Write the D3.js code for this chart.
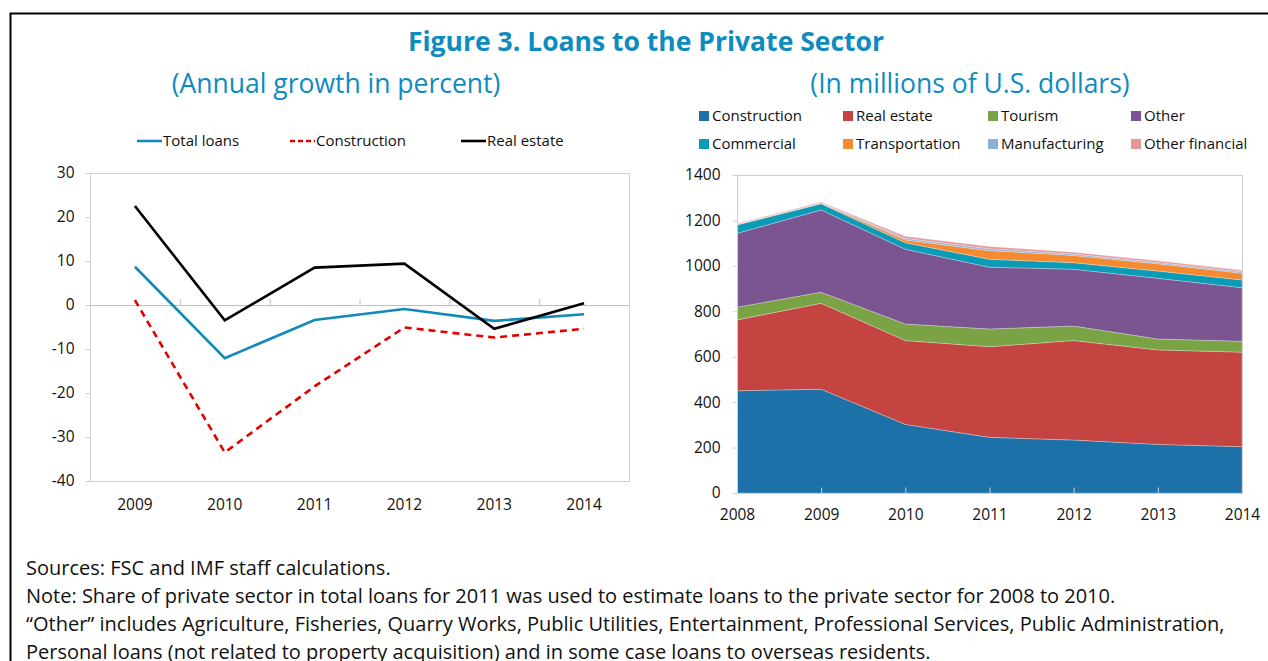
<!DOCTYPE html>
<meta charset="utf-8" />
<title>Loans to the Private Sector</title>
<style>
  body { margin: 0; background: #fff; font-family: "Open Sans", "Noto Sans", sans-serif; }
  .tick text { font-size: 15.5px; fill: #111; font-family: "Open Sans", "Noto Sans", sans-serif; }
  .note { font-size: 20px; fill: #111; }
</style>
<body>
<script src="https://d3js.org/d3.v7.min.js"></script>
<script>
  // left panel: annual growth in percent
  var growthYears = ["2009", "2010", "2011", "2012", "2013", "2014"];
  var totalLoans = [8.7, -12.1, -3.4, -0.9, -3.6, -2.1];
  var constructionGrowth = [1.1, -33.5, -18.5, -5.1, -7.4, -5.4];
  var realEstateGrowth = [22.5, -3.5, 8.5, 9.4, -5.4, 0.4];
  var growthTicks = [30, 20, 10, 0, -10, -20, -30, -40];

  // right panel: stock of loans, millions of US$
  var stockYears = ["2008", "2009", "2010", "2011", "2012", "2013", "2014"];
  var sectors = ["Construction", "Real estate", "Tourism", "Other", "Commercial", "Transportation", "Manufacturing", "Other financial"];
  var construction = [450, 457, 302, 245, 233, 214, 204];
  var realEstate = [312, 378, 369, 399, 438, 416, 416];
  var tourism = [56, 49, 73, 78, 64, 48, 48];
  var other = [325, 362, 329, 272, 250, 267, 236];
  var commercial = [37, 27, 29, 35, 29, 32, 34];
  var transportation = [2, 3, 12, 38, 32, 32, 30];
  var manufacturing = [1, 2, 7, 8, 6, 6, 6];
  var otherFinancial = [3, 3, 9, 10, 8, 7, 7];
  var stockTicks = [0, 200, 400, 600, 800, 1000, 1200, 1400];

  var sectorColors = ["#1c71a9", "#c44442", "#7aa346", "#7a5591", "#0b9bb6", "#f58a31", "#8fb0d6", "#e8969a"];
  var blue = "#0e8bbf";
  var plain = function(d) { return String(d); };

  var svg = d3.select("body").append("svg")
    .attr("width", 1268)
    .attr("height", 661);

  // frame
  svg.append("path")
    .attr("d", "M10.5,700 V13.5 H1300")
    .attr("fill", "none")
    .attr("stroke", "#000")
    .attr("stroke-width", 2);

  svg.append("text")
    .attr("x", 646).attr("y", 51)
    .attr("text-anchor", "middle")
    .attr("fill", blue)
    .style("font-size", "26.5px")
    .style("font-weight", "bold")
    .text("Figure 3. Loans to the Private Sector");

  svg.append("text")
    .attr("x", 336).attr("y", 93)
    .attr("text-anchor", "middle")
    .attr("fill", blue)
    .style("font-size", "26.5px")
    .text("(Annual growth in percent)");

  svg.append("text")
    .attr("x", 970).attr("y", 93)
    .attr("text-anchor", "middle")
    .attr("fill", blue)
    .style("font-size", "26.5px")
    .text("(In millions of U.S. dollars)");

  // ---------- left chart ----------
  var L = { left: 90, right: 629, top: 173, bottom: 481 };
  var xL = d3.scaleBand().domain(growthYears).range([L.left, L.right]);
  var yL = d3.scaleLinear().domain([-40, 30]).range([L.bottom, L.top]);

  var gL = svg.append("g");

  gL.append("rect")
    .attr("x", L.left + 0.5).attr("y", L.top + 0.5)
    .attr("width", L.right - L.left).attr("height", L.bottom - L.top)
    .attr("fill", "none").attr("stroke", "#d0d0d0");

  var yAxisL = gL.append("g")
    .attr("transform", "translate(" + (L.left + 0.5) + ",0)")
    .call(d3.axisLeft(yL).tickValues(growthTicks).tickFormat(plain).tickSize(5).tickPadding(11));
  yAxisL.select(".domain").remove();
  yAxisL.selectAll("line").attr("stroke", "#d0d0d0");

  // zero line with category ticks
  gL.append("line")
    .attr("x1", L.left).attr("x2", L.right)
    .attr("y1", yL(0) + 0.5).attr("y2", yL(0) + 0.5)
    .attr("stroke", "#c0c0c0");
  gL.selectAll(".sep")
    .data(growthYears.slice(1))
    .enter().append("line")
    .attr("x1", function(d) { return xL(d) + 0.5; })
    .attr("x2", function(d) { return xL(d) + 0.5; })
    .attr("y1", yL(0) - 6).attr("y2", yL(0))
    .attr("stroke", "#c0c0c0");

  var xAxisL = gL.append("g")
    .attr("transform", "translate(0," + L.bottom + ")")
    .call(d3.axisBottom(xL).tickSize(0).tickPadding(18));
  xAxisL.select(".domain").remove();

  var lineL = d3.line()
    .x(function(d, i) { return xL(growthYears[i]) + xL.bandwidth() / 2; })
    .y(function(d) { return yL(d); });

  var growthSeries = [
    { name: "Total loans", values: totalLoans, color: "#128ab7", dash: null },
    { name: "Construction", values: constructionGrowth, color: "#e50000", dash: "7,5" },
    { name: "Real estate", values: realEstateGrowth, color: "#000", dash: null }
  ];

  gL.selectAll(".series")
    .data(growthSeries)
    .enter().append("path")
    .attr("d", function(d) { return lineL(d.values); })
    .attr("fill", "none")
    .attr("stroke", function(d) { return d.color; })
    .attr("stroke-width", 2.6)
    .attr("stroke-dasharray", function(d) { return d.dash; });

  var legL = gL.selectAll(".legL")
    .data(growthSeries)
    .enter().append("g")
    .attr("transform", function(d, i) { return "translate(" + [137, 290, 461][i] + ",141)"; });
  legL.append("line")
    .attr("x1", 0).attr("x2", 25)
    .attr("stroke", function(d) { return d.color; })
    .attr("stroke-width", 2.6)
    .attr("stroke-dasharray", function(d) { return d.dash ? "5,3" : null; });
  legL.append("text")
    .attr("x", 26).attr("dy", "0.35em")
    .style("font-size", "15px")
    .attr("fill", "#111")
    .text(function(d) { return d.name; });

  // ---------- right chart ----------
  var R = { left: 737, right: 1242, top: 175, bottom: 493 };
  var xR = d3.scalePoint().domain(stockYears).range([R.left, R.right]);
  var yR = d3.scaleLinear().domain([0, 1400]).range([R.bottom, R.top]);

  var rows = stockYears.map(function(y, i) {
    return {
      year: y,
      "Construction": construction[i],
      "Real estate": realEstate[i],
      "Tourism": tourism[i],
      "Other": other[i],
      "Commercial": commercial[i],
      "Transportation": transportation[i],
      "Manufacturing": manufacturing[i],
      "Other financial": otherFinancial[i]
    };
  });
  var stacked = d3.stack().keys(sectors)(rows);

  var area = d3.area()
    .x(function(d) { return xR(d.data.year); })
    .y0(function(d) { return yR(d[0]); })
    .y1(function(d) { return yR(d[1]); });

  var gR = svg.append("g");

  gR.selectAll(".layer")
    .data(stacked)
    .enter().append("path")
    .attr("d", area)
    .attr("fill", function(d, i) { return sectorColors[i]; })
    .attr("stroke", "rgba(255,255,255,0.45)")
    .attr("stroke-width", 0.6);

  gR.append("rect")
    .attr("x", R.left + 0.5).attr("y", R.top + 0.5)
    .attr("width", R.right - R.left).attr("height", R.bottom - R.top)
    .attr("fill", "none").attr("stroke", "#d0d0d0");

  var yAxisR = gR.append("g")
    .attr("transform", "translate(" + (R.left + 0.5) + ",0)")
    .call(d3.axisLeft(yR).tickValues(stockTicks).tickFormat(plain).tickSize(5).tickPadding(12));
  yAxisR.select(".domain").remove();
  yAxisR.selectAll("line").attr("stroke", "#d0d0d0");

  var xAxisR = gR.append("g")
    .attr("transform", "translate(0," + (R.bottom + 0.5) + ")")
    .call(d3.axisBottom(xR).tickSize(-6).tickPadding(15));
  xAxisR.select(".domain").remove();
  xAxisR.selectAll("line").attr("stroke", "#d0d0d0");

  var legR = gR.selectAll(".legR")
    .data(sectors)
    .enter().append("g")
    .attr("transform", function(d, i) {
      return "translate(" + [699, 843, 988, 1131][i % 4] + "," + (i < 4 ? 116 : 144) + ")";
    });
  legR.append("rect")
    .attr("x", 0).attr("y", -5)
    .attr("width", 10).attr("height", 10)
    .attr("fill", function(d, i) { return sectorColors[i]; });
  legR.append("text")
    .attr("x", 13).attr("dy", "0.35em")
    .style("font-size", "15px")
    .attr("fill", "#111")
    .text(function(d) { return d; });

  // ---------- notes ----------
  var notes = [
    "Sources: FSC and IMF staff calculations.",
    "Note: Share of private sector in total loans for 2011 was used to estimate loans to the private sector for 2008 to 2010.",
    "\u201COther\u201D includes Agriculture, Fisheries, Quarry Works, Public Utilities, Entertainment, Professional Services, Public Administration,",
    "Personal loans (not related to property acquisition) and in some case loans to overseas residents."
  ];
  svg.selectAll(".note")
    .data(notes)
    .enter().append("text")
    .attr("class", "note")
    .attr("x", 26)
    .attr("y", function(d, i) { return 575 + i * 28; })
    .text(function(d) { return d; });
</script>
</body>
